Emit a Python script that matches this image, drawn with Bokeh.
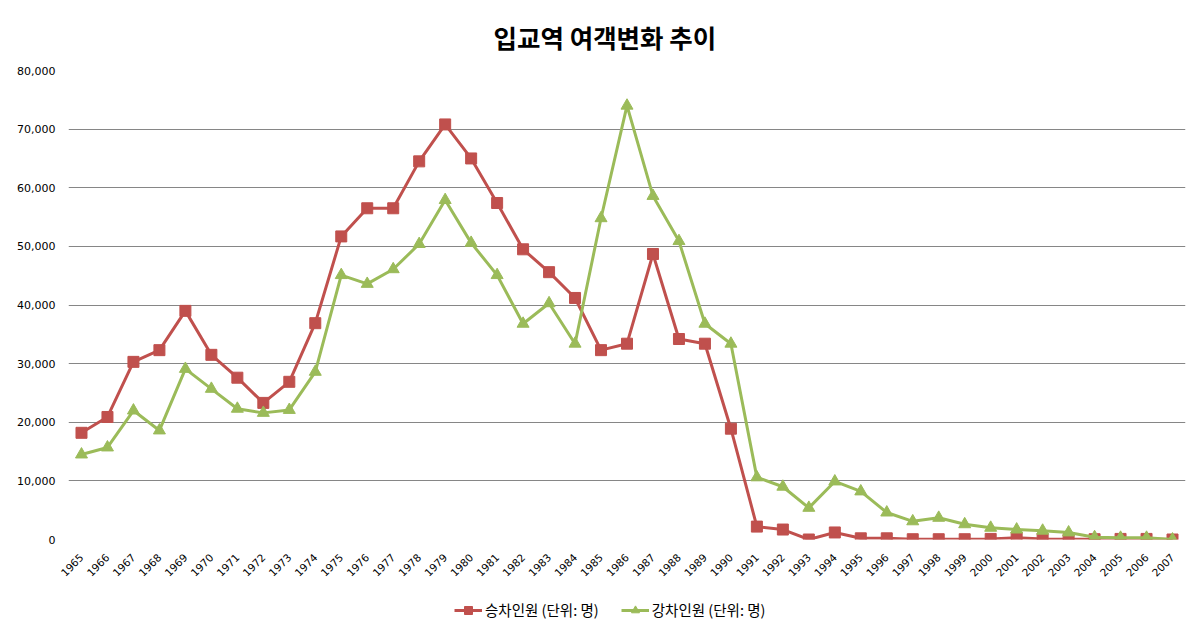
import math
from bokeh.plotting import figure
from bokeh.layouts import column
from bokeh.models import (Range1d, FixedTicker, NumeralTickFormatter,
                          Legend, LegendItem)
from bokeh.embed import file_html
from bokeh.resources import INLINE

years = list(range(1965, 2008))
boarding = [18200, 20900, 30300, 32300, 39000, 31500, 27600, 23300, 26900, 36900,
            51700, 56500, 56500, 64500, 70800, 65000, 57400, 49500, 45600, 41200,
            32300, 33400, 48700, 34200, 33400, 18900, 2200, 1700, 0, 1200,
            200, 200, 50, 50, 50, 100, 300, 100, 50, 50,
            100, 100, 0]
alighting = [14500, 15700, 22000, 18600, 29100, 25700, 22300, 21600, 22100, 28600,
             45100, 43600, 46100, 50400, 57900, 50600, 45100, 36800, 40300, 33400,
             54800, 74000, 58600, 50900, 36800, 33400, 10600, 9000, 5400, 9900,
             8200, 4600, 3100, 3700, 2600, 2000, 1700, 1500, 1200, 400,
             300, 300, 0]
y_ticks = [0, 10000, 20000, 30000, 40000, 50000, 60000, 70000, 80000]
title_text = "입교역 여객변화 추이"
series_names = ["승차인원 (단위: 명)", "강차인원 (단위: 명)"]

RED = "#C0504D"
GREEN = "#9BBB59"
KR = "Noto Sans CJK KR"

p = figure(width=1187, height=585, output_backend="svg", toolbar_location=None,
           x_range=Range1d(years[0] - 0.5, years[-1] + 0.5),
           y_range=Range1d(0, 80000),
           min_border_left=68, min_border_right=2, min_border_top=69,
           min_border_bottom=46)
p.outline_line_color = None
p.background_fill_color = "white"
p.border_fill_color = "white"

# title
p.title.text = title_text
p.title.align = "left"
p.title.offset = 425
p.title.standoff = 31
p.title.text_line_height = 0.9
p.title.text_font = KR
p.title.text_font_style = "bold"
p.title.text_font_size = "25.5px"
p.title.text_color = "black"

# axes
p.xaxis.ticker = FixedTicker(ticks=years)
p.xaxis.major_label_orientation = math.pi / 4
p.xaxis.axis_line_color = None
p.xaxis.major_tick_line_color = None
p.xaxis.minor_tick_line_color = None
p.xaxis.major_tick_out = 0
p.xaxis.major_tick_in = 0
p.xaxis.major_label_standoff = 16
p.xaxis.major_label_text_font = "DejaVu Sans"
p.xaxis.major_label_text_font_size = "10.5px"
p.xaxis.major_label_text_color = "black"

p.yaxis.ticker = FixedTicker(ticks=y_ticks)
p.yaxis.formatter = NumeralTickFormatter(format="0,0")
p.yaxis.axis_line_color = None
p.yaxis.major_tick_line_color = None
p.yaxis.minor_tick_line_color = None
p.yaxis.major_tick_out = 0
p.yaxis.major_tick_in = 0
p.yaxis.major_label_standoff = 13
p.yaxis.major_label_text_font = "DejaVu Sans"
p.yaxis.major_label_text_font_size = "11px"
p.yaxis.major_label_text_color = "black"

p.xgrid.grid_line_color = None
p.ygrid.grid_line_color = "#868686"
p.ygrid.grid_line_width = 1

# series
p.line(years, boarding, line_color=RED, line_width=3)
p.scatter(years, boarding, marker="square", size=11, fill_color=RED,
          line_color=RED)
p.line(years, alighting, line_color=GREEN, line_width=3)
p.scatter(years, alighting, marker="triangle", size=12, fill_color=GREEN,
          line_color=GREEN)

# legend strip below the chart (its renderers fall outside its own ranges)
lg = figure(width=1187, height=35, output_backend="svg", toolbar_location=None,
            x_range=Range1d(0, 1), y_range=Range1d(0, 1),
            x_axis_location=None, y_axis_location=None,
            min_border_left=0, min_border_right=0, min_border_top=0,
            min_border_bottom=0)
lg.outline_line_color = None
lg.grid.visible = False
lg.border_fill_color = "white"
r1 = lg.line(years, boarding, line_color=RED, line_width=3)
m1 = lg.scatter(years, boarding, marker="square", size=11, fill_color=RED,
                line_color=RED)
r2 = lg.line(years, alighting, line_color=GREEN, line_width=3)
m2 = lg.scatter(years, alighting, marker="triangle", size=12, fill_color=GREEN,
                line_color=GREEN)
legend = Legend(items=[LegendItem(label=series_names[0], renderers=[r1, m1]),
                       LegendItem(label=series_names[1], renderers=[r2, m2])],
                orientation="horizontal", location=(386, 0),
                label_text_font=KR, label_text_font_size="14.5px",
                label_text_color="black", glyph_width=28, glyph_height=20,
                label_standoff=3, label_height=20,
                spacing=22, padding=0, margin=0, border_line_color=None,
                background_fill_alpha=0)
lg.add_layout(legend, "center")

layout = column(p, lg, spacing=0)
open("out.html", "w").write(file_html(layout, INLINE))
